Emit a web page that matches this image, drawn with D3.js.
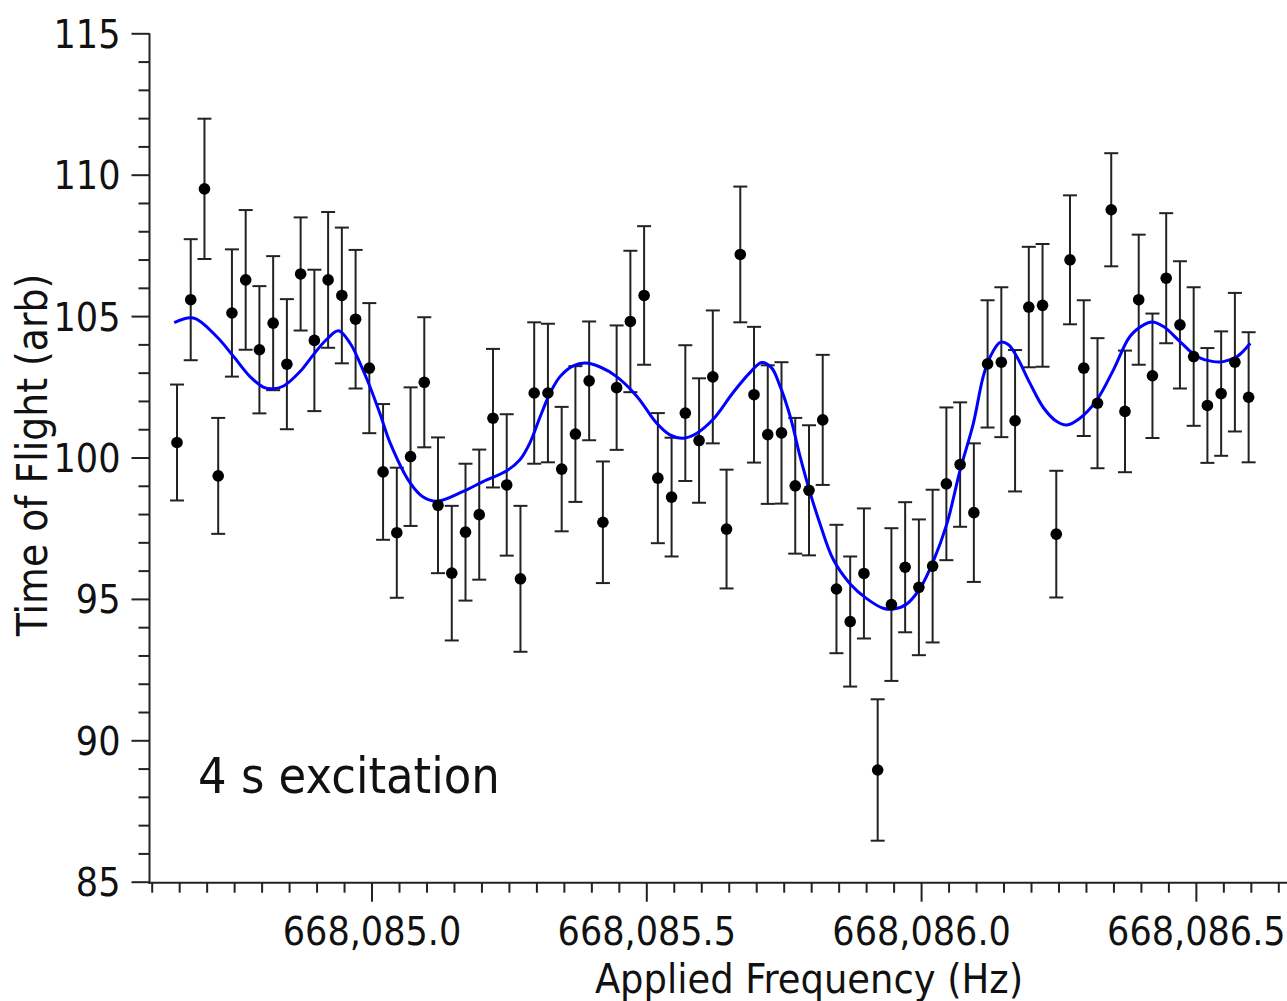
<!DOCTYPE html>
<html>
<head>
<meta charset="utf-8">
<script src="https://cdn.jsdelivr.net/npm/d3@7"></script>
<style>
  html, body { margin: 0; padding: 0; background: #fff; }
  svg { display: block; }
  .lbl { font-family: "DejaVu Sans Condensed", "DejaVu Sans", sans-serif; font-stretch: condensed; fill: #111; }
</style>
</head>
<body>
<svg id="chart" width="1287" height="1001"></svg>
<script>
// Measured frequencies (Hz)
const freqs = [
  668084.646, 668084.671, 668084.696, 668084.721, 668084.746, 668084.771, 668084.796, 668084.821,
  668084.846, 668084.871, 668084.896, 668084.921, 668084.946, 668084.971, 668084.996, 668085.021,
  668085.046, 668085.071, 668085.096, 668085.121, 668085.146, 668085.171, 668085.196, 668085.221,
  668085.246, 668085.271, 668085.296, 668085.321, 668085.346, 668085.371, 668085.396, 668085.421,
  668085.446, 668085.471, 668085.496, 668085.521, 668085.546, 668085.571, 668085.596, 668085.621,
  668085.646, 668085.671, 668085.696, 668085.721, 668085.746, 668085.771, 668085.796, 668085.821,
  668085.846, 668085.871, 668085.896, 668085.921, 668085.946, 668085.971, 668085.996, 668086.021,
  668086.046, 668086.071, 668086.096, 668086.121, 668086.146, 668086.171, 668086.196, 668086.221,
  668086.246, 668086.271, 668086.296, 668086.321, 668086.346, 668086.371, 668086.396, 668086.421,
  668086.446, 668086.471, 668086.496, 668086.521, 668086.546, 668086.571, 668086.596
];

// Mean time of flight (arb)
const tof = [
  100.53, 105.58, 109.50, 99.35, 105.11, 106.28, 103.81, 104.75,
  103.30, 106.49, 104.14, 106.28, 105.73, 104.89, 103.16, 99.49,
  97.34, 100.03, 102.66, 98.31, 95.91, 97.36, 97.98, 101.39,
  99.03, 95.71, 102.28, 102.28, 99.59, 100.83, 102.71, 97.71,
  102.47, 104.81, 105.73, 99.27, 98.60, 101.57, 100.60, 102.85,
  97.47, 107.18, 102.22, 100.81, 100.87, 99.00, 98.84, 101.33,
  95.35, 94.20, 95.90, 88.95, 94.80, 96.12, 95.41, 96.16,
  99.07, 99.75, 98.05, 103.31, 103.37, 101.30, 105.32, 105.38,
  97.29, 106.99, 103.16, 101.92, 108.76, 101.63, 105.58, 102.89,
  106.34, 104.69, 103.57, 101.84, 102.26, 103.37, 102.13
];

// One-sigma uncertainty of each point
const tofErr = [
  2.05, 2.14, 2.48, 2.05, 2.25, 2.47, 2.25, 2.37,
  2.30, 2.00, 2.50, 2.40, 2.40, 2.45, 2.30, 2.40,
  2.30, 2.45, 2.30, 2.40, 2.38, 2.42, 2.30, 2.45,
  2.50, 2.58, 2.50, 2.45, 2.20, 2.40, 2.10, 2.15,
  2.20, 2.50, 2.45, 2.30, 2.10, 2.40, 2.20, 2.35,
  2.10, 2.40, 2.40, 2.45, 2.50, 2.40, 2.30, 2.30,
  2.27, 2.30, 2.30, 2.50, 2.70, 2.30, 2.40, 2.70,
  2.70, 2.20, 2.45, 2.25, 2.65, 2.50, 2.13, 2.17,
  2.24, 2.28, 2.40, 2.30, 2.00, 2.15, 2.30, 2.20,
  2.30, 2.25, 2.45, 2.03, 2.20, 2.45, 2.30
];

// Fitted line-shape, sampled (Hz, arb)
const fitFreq = [
  668084.641, 668084.676, 668084.718, 668084.749, 668084.779, 668084.803, 668084.820, 668084.840,
  668084.870, 668084.894, 668084.919, 668084.940, 668084.961, 668084.979, 668084.997, 668085.015,
  668085.034, 668085.070, 668085.094, 668085.119, 668085.167, 668085.203, 668085.246, 668085.270,
  668085.288, 668085.307, 668085.325, 668085.343, 668085.367, 668085.389, 668085.416, 668085.446,
  668085.483, 668085.519, 668085.543, 668085.567, 668085.592, 668085.622, 668085.658, 668085.689,
  668085.710, 668085.728, 668085.743, 668085.762, 668085.780, 668085.798, 668085.816, 668085.840,
  668085.871, 668085.901, 668085.931, 668085.950, 668085.974, 668085.998, 668086.022, 668086.047,
  668086.071, 668086.095, 668086.113, 668086.126, 668086.144, 668086.159, 668086.174, 668086.198,
  668086.223, 668086.247, 668086.265, 668086.289, 668086.320, 668086.350, 668086.380, 668086.405,
  668086.420, 668086.441, 668086.471, 668086.502, 668086.532, 668086.550, 668086.575, 668086.599
];
const fitTof = [
  104.77, 104.93, 104.28, 103.57, 102.86, 102.49, 102.43, 102.53,
  103.04, 103.63, 104.19, 104.48, 104.04, 103.34, 102.51, 101.57,
  100.51, 99.11, 98.60, 98.45, 98.80, 99.15, 99.53, 99.92,
  100.51, 101.45, 102.28, 102.86, 103.24, 103.34, 103.20, 102.86,
  102.16, 101.21, 100.80, 100.68, 100.86, 101.36, 102.30, 103.01,
  103.36, 103.17, 102.54, 101.44, 100.02, 98.76, 97.66, 96.40,
  95.53, 95.01, 94.67, 94.64, 94.82, 95.37, 96.32, 97.66,
  99.55, 101.20, 102.86, 103.57, 104.07, 103.99, 103.57, 102.63,
  101.75, 101.27, 101.15, 101.39, 102.04, 103.10, 104.28, 104.69,
  104.79, 104.63, 104.10, 103.57, 103.39, 103.39, 103.57, 104.04
];

const yMajorTicks = [85, 90, 95, 100, 105, 110, 115];
const xMajorTicks = [668085.0, 668085.5, 668086.0, 668086.5];
const xTitle = "Applied Frequency (Hz)";
const yTitle = "Time of Flight (arb)";
const note = "4 s excitation";

const svg = d3.select("#chart");
const axisColor = "#222";

const x = d3.scaleLinear().domain([668084.6, 668086.664]).range([151.7, 1286]);
const y = d3.scaleLinear().domain([85, 115]).range([881.7, 33.3]);
const yAxisX = 149.5;
const xAxisY = 882.7;

// ---- y axis ----
const yMinor = d3.range(85, 116).filter(v => v % 5 !== 0);
svg.append("g").attr("transform", `translate(${yAxisX},0)`)
  .call(d3.axisLeft(y).tickValues(yMinor).tickSize(11).tickSizeOuter(0).tickFormat(""));
const yG = svg.append("g").attr("transform", `translate(${yAxisX},0)`)
  .call(d3.axisLeft(y).tickValues(yMajorTicks).tickSize(18).tickSizeOuter(0).tickPadding(11));
yG.selectAll("text").attr("class", "lbl").attr("font-size", 39).attr("dy", "0.36em");

// ---- x axis ----
const xMinor = d3.range(0, 42).map(i => 668084.6 + i * 0.05)
  .filter(v => Math.abs((v - 668085) / 0.5 - Math.round((v - 668085) / 0.5)) > 1e-6);
svg.append("g").attr("transform", `translate(0,${xAxisY})`)
  .call(d3.axisBottom(x).tickValues(xMinor).tickSize(10).tickSizeOuter(0).tickFormat(""));
const xG = svg.append("g").attr("transform", `translate(0,${xAxisY})`)
  .call(d3.axisBottom(x).tickValues(xMajorTicks).tickSize(19).tickSizeOuter(0).tickFormat(d3.format(",.1f")));
xG.selectAll("text").attr("class", "lbl").attr("font-size", 39).attr("y", 62).attr("dy", 0);

svg.selectAll(".domain").remove();
svg.selectAll(".tick line").attr("stroke", axisColor).attr("stroke-width", 2);
svg.selectAll(".tick text").attr("fill", "#111");

// axis spines
svg.append("line").attr("x1", yAxisX).attr("x2", yAxisX).attr("y1", y(115)).attr("y2", xAxisY + 1)
  .attr("stroke", axisColor).attr("stroke-width", 2);
svg.append("line").attr("x1", yAxisX - 1).attr("x2", 1287).attr("y1", xAxisY).attr("y2", xAxisY)
  .attr("stroke", axisColor).attr("stroke-width", 2);

// ---- titles ----
svg.append("text").attr("class", "lbl").attr("font-size", 41)
  .attr("x", 809).attr("y", 993).attr("text-anchor", "middle").text(xTitle);
svg.append("text").attr("class", "lbl").attr("font-size", 42)
  .attr("transform", "translate(47,455) rotate(-90)").attr("text-anchor", "middle").text(yTitle);
svg.append("text").attr("class", "lbl").attr("font-size", 50)
  .attr("x", 198).attr("y", 793).text(note);

// ---- data ----
const pts = freqs.map((f, i) => ({ f, v: tof[i], e: tofErr[i] }));
const bars = svg.append("g").attr("stroke", axisColor).attr("stroke-width", 2);
const capW = 7;
pts.forEach(p => {
  const cx = x(p.f), yt = y(p.v + p.e), yb = y(p.v - p.e);
  bars.append("line").attr("x1", cx).attr("x2", cx).attr("y1", yt).attr("y2", yb);
  bars.append("line").attr("x1", cx - capW).attr("x2", cx + capW).attr("y1", yt).attr("y2", yt);
  bars.append("line").attr("x1", cx - capW).attr("x2", cx + capW).attr("y1", yb).attr("y2", yb);
});

const fit = fitFreq.map((f, i) => [f, fitTof[i]]);
svg.append("path").datum(fit)
  .attr("fill", "none").attr("stroke", "#0000ff").attr("stroke-width", 3)
  .attr("d", d3.line().x(d => x(d[0])).y(d => y(d[1])).curve(d3.curveCatmullRom.alpha(0.5)));

svg.append("g").selectAll("circle").data(pts).join("circle")
  .attr("cx", d => x(d.f)).attr("cy", d => y(d.v)).attr("r", 5.8).attr("fill", "#000");
</script>
</body>
</html>
